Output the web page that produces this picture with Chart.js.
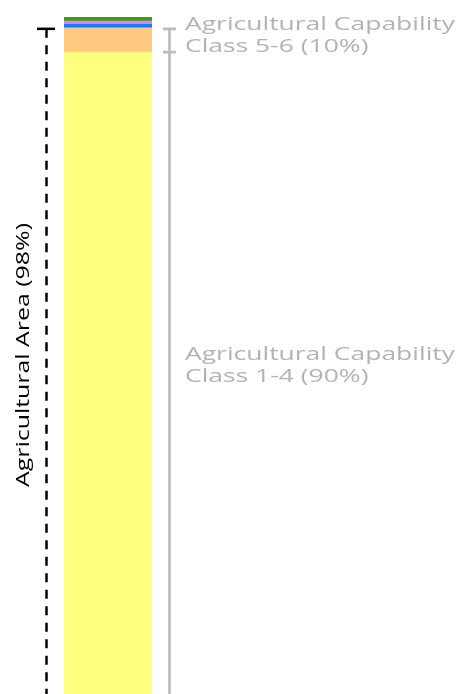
<!DOCTYPE html>
<html>
<head>
<meta charset="utf-8">
<script src="https://cdn.jsdelivr.net/npm/chart.js@4/dist/chart.umd.min.js"></script>
<style>
html,body{margin:0;padding:0;background:#fff;}
#wrap{width:461px;height:694px;position:relative;}
</style>
</head>
<body>
<div id="wrap"><canvas id="c" width="461" height="694"></canvas></div>
<script>
// ---- data ----
const categories = ['Land'];
const seriesNames = ['Class 1-4', 'Class 5-6', 'Class 7', 'Class 8', 'Other'];
const seriesValues = [94.8, 3.6, 0.5, 0.5, 0.6];
const seriesColors = ['#ffff7f', '#ffc97f', '#1a7aff', '#e080ff', '#3a9c10'];
const bracketLabels = [
  ['Agricultural Capability', 'Class 5-6 (10%)'],
  ['Agricultural Capability', 'Class 1-4 (90%)']
];
const areaLabel = 'Agricultural Area (98%)';

const FONT_FAMILY = '"Open Sans", sans-serif';
const FONT_SIZE = 17.5;

function stretchFor(ctx, text, target) {
  ctx.font = FONT_SIZE + 'px ' + FONT_FAMILY;
  return target / ctx.measureText(text).width;
}
function drawStretched(ctx, text, x, y, sx) {
  ctx.save();
  ctx.translate(x, y);
  ctx.scale(sx, 1);
  ctx.fillText(text, 0, 0);
  ctx.restore();
}

const annotPlugin = {
  id: 'annot',
  afterDatasetsDraw(chart) {
    const ctx = chart.ctx;
    const y = chart.scales.y;
    const yBottom = y.getPixelForValue(0);
    const yClass14Top = y.getPixelForValue(seriesValues[0]);
    const yClass56Top = y.getPixelForValue(seriesValues[0] + seriesValues[1]);

    ctx.save();
    ctx.strokeStyle = '#000';
    ctx.lineWidth = 2.5;
    ctx.beginPath();
    ctx.moveTo(37, yClass56Top + 1);
    ctx.lineTo(55, yClass56Top + 1);
    ctx.stroke();
    ctx.setLineDash([9, 7.5]);
    ctx.beginPath();
    ctx.moveTo(46.5, yClass56Top + 1);
    ctx.lineTo(46.5, yBottom + 5);
    ctx.stroke();
    ctx.setLineDash([]);

    ctx.textAlign = 'left';
    ctx.textBaseline = 'alphabetic';
    const aSx = stretchFor(ctx, areaLabel, 264);
    ctx.font = FONT_SIZE + 'px ' + FONT_FAMILY;
    ctx.fillStyle = '#000';
    ctx.save();
    ctx.translate(29, 487);
    ctx.rotate(-Math.PI / 2);
    drawStretched(ctx, areaLabel, 0, 0, aSx);
    ctx.restore();

    ctx.strokeStyle = '#bdbdbd';
    ctx.lineWidth = 2.7;
    ctx.beginPath();
    ctx.moveTo(169.5, yClass56Top + 1);
    ctx.lineTo(169.5, yBottom + 5);
    ctx.moveTo(163, yClass56Top + 1);
    ctx.lineTo(176, yClass56Top + 1);
    ctx.moveTo(163, yClass14Top);
    ctx.lineTo(176, yClass14Top);
    ctx.stroke();

    const gSx = stretchFor(ctx, bracketLabels[0][0], 270);
    ctx.font = FONT_SIZE + 'px ' + FONT_FAMILY;
    ctx.fillStyle = '#b3b3b3';
    const spans = [[yClass56Top, yClass14Top], [yClass14Top, yBottom]];
    bracketLabels.forEach((lines, i) => {
      const mid = (spans[i][0] + spans[i][1]) / 2;
      const off = i === 0 ? -1 : 1.5;
      drawStretched(ctx, lines[0], 185, mid - 11.5 - off, gSx);
      drawStretched(ctx, lines[1], 185, mid + 10.5 - off, gSx);
    });
    ctx.restore();
  }
};

new Chart(document.getElementById('c'), {
  type: 'bar',
  data: {
    labels: categories,
    datasets: seriesNames.map((n, i) => ({
      label: n,
      data: [seriesValues[i]],
      backgroundColor: seriesColors[i],
      borderWidth: 0,
      barPercentage: 1,
      categoryPercentage: 1
    }))
  },
  options: {
    responsive: false,
    animation: false,
    layout: { padding: { left: 64, right: 309, top: 17, bottom: 0 } },
    plugins: { legend: { display: false }, tooltip: { enabled: false } },
    scales: {
      x: { stacked: true, display: false },
      y: { stacked: true, display: false, min: 0, max: 100 }
    }
  },
  plugins: [annotPlugin]
});
</script>
</body>
</html>
